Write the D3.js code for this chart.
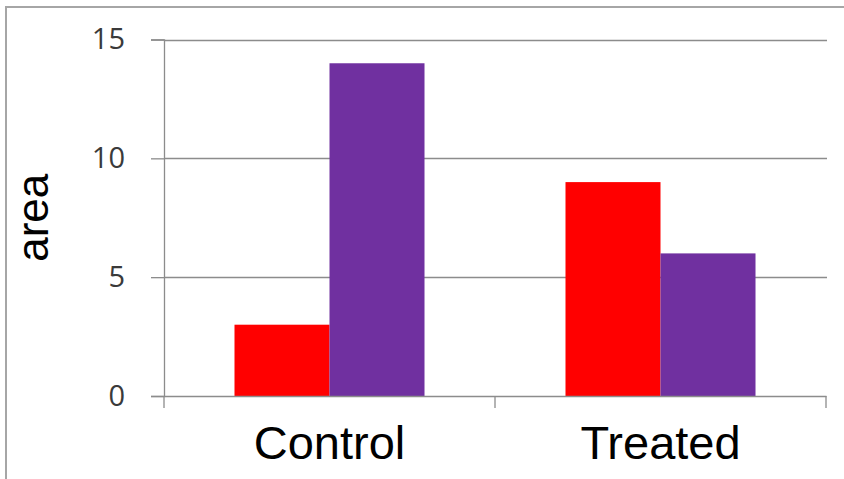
<!DOCTYPE html>
<html>
<head>
<meta charset="utf-8">
<script src="https://cdn.jsdelivr.net/npm/d3@7"></script>
<style>
  body { margin: 0; background: #fff; }
  svg { display: block; }
</style>
</head>
<body>
<svg id="chart" width="844" height="479"></svg>
<script>
// data
const categories = ["Control", "Treated"];
const seriesNames = ["s1", "s2"];
const seriesValues = {
    s1: [3, 9],
    s2: [14, 6]
};
const colors = ["#ff0000", "#7030a0"];
const yTicks = [0, 5, 10, 15];

const width = 844, height = 479;
const margin = {top: 39.5, right: 18, bottom: 83, left: 164};

const svg = d3.select("#chart");

// outer frame (only top + left visible)
svg.append("path")
    .attr("d", `M6,${height}V7H${width}`)
    .attr("fill", "none")
    .attr("stroke", "#a6a6a6")
    .attr("stroke-width", 2);

const x0 = d3.scaleBand()
    .domain(categories)
    .range([margin.left, width - margin.right])
    .paddingInner(0)
    .paddingOuter(0);

const x1 = d3.scaleBand()
    .domain(seriesNames)
    .range([0, x0.bandwidth()])
    .paddingInner(0)
    .paddingOuter(0.742);

const y = d3.scaleLinear()
    .domain([0, 15])
    .range([height - margin.bottom, margin.top]);

// gridlines
svg.append("g")
    .selectAll("line")
    .data(yTicks.filter(d => d > 0))
    .join("line")
    .attr("x1", margin.left)
    .attr("x2", width - margin.right + 1)
    .attr("y1", d => Math.round(y(d)) + 0.5)
    .attr("y2", d => Math.round(y(d)) + 0.5)
    .attr("stroke", "#8c8c8c")
    .attr("stroke-width", 1.3);

// bars
const groups = svg.append("g")
    .selectAll("g")
    .data(categories)
    .join("g")
    .attr("transform", d => `translate(${x0(d)},0)`);

groups.selectAll("rect")
    .data((c, ci) => seriesNames.map((s, si) => ({s, si, v: seriesValues[s][ci]})))
    .join("rect")
    .attr("x", d => x1(d.s))
    .attr("width", x1.bandwidth())
    .attr("y", d => y(d.v))
    .attr("height", d => y(0) - y(d.v))
    .attr("fill", d => colors[d.si]);

// y axis
const yAxis = svg.append("g")
    .attr("transform", `translate(${margin.left},0)`)
    .call(d3.axisLeft(y).tickValues(yTicks).tickSize(13).tickPadding(26).tickFormat(d3.format("d")));
yAxis.select(".domain").attr("stroke", "#8c8c8c").attr("stroke-width", 1.3);
yAxis.selectAll(".tick line").attr("stroke", "#8c8c8c").attr("stroke-width", 1.3);
yAxis.selectAll(".tick text")
    .attr("fill", "#3a3a3a")
    .style("font-family", "'Open Sans', sans-serif")
    .style("font-size", "29px");

// x axis
const xAxis = svg.append("g")
    .attr("transform", `translate(0,${y(0)})`)
    .call(d3.axisBottom(x0).tickSize(0).tickPadding(30));
xAxis.select(".domain").attr("stroke", "#8c8c8c").attr("stroke-width", 1.3);
xAxis.selectAll(".tick text")
    .attr("fill", "#000")
    .style("font-family", "'Liberation Sans', Arial, sans-serif")
    .style("font-size", "47px");

// category separators
const sepX = [margin.left, ...categories.map(c => x0(c) + x0.bandwidth())];
svg.append("g")
    .selectAll("line")
    .data(sepX)
    .join("line")
    .attr("x1", d => d)
    .attr("x2", d => d)
    .attr("y1", y(0))
    .attr("y2", y(0) + 12)
    .attr("stroke", "#8c8c8c")
    .attr("stroke-width", 1.3);

// y title
svg.append("text")
    .attr("transform", `translate(48,${(y(0) + y(15)) / 2}) rotate(-90)`)
    .attr("text-anchor", "middle")
    .style("font-family", "'Liberation Sans', Arial, sans-serif")
    .style("font-size", "44px")
    .attr("fill", "#000")
    .text("area");
</script>
</body>
</html>
